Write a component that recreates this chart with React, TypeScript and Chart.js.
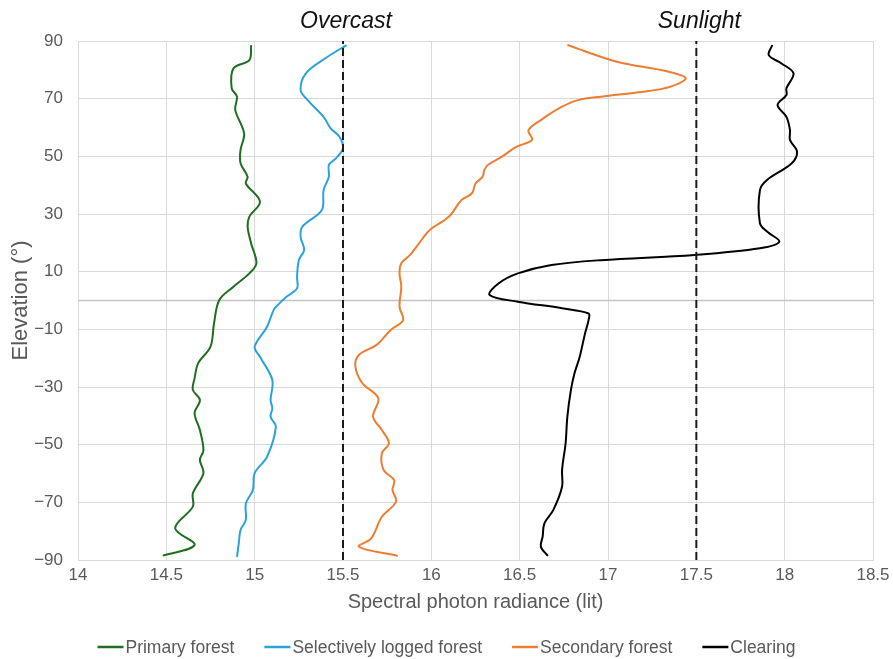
import React, { useEffect, useRef } from "react";
import { Chart, registerables } from "chart.js";

Chart.register(...registerables);

// ---- Data (elevation in degrees, spectral photon radiance in lit) ----
const primaryElev = [88.6, 83.4, 80.5, 73.6, 70.7, 66.1, 58, 52.2, 47.6, 42.9, 40.6, 34.3, 29.1, 25.6, 19.8, 12.9, 9.4, 4.8, 0.2, -7.9, -16, -21.8, -27, -31, -34.5, -39.1, -44.9, -51.9, -55.3, -59.9, -66.9, -71.5, -79, -84.8, -88.5];
const primaryVal = [14.98, 14.97, 14.88, 14.87, 14.9, 14.89, 14.94, 14.92, 14.92, 14.96, 14.95, 15.03, 14.97, 14.96, 14.98, 15.01, 14.97, 14.88, 14.8, 14.77, 14.75, 14.68, 14.66, 14.65, 14.69, 14.66, 14.69, 14.71, 14.69, 14.71, 14.65, 14.65, 14.55, 14.66, 14.48];

const loggedElev = [88.6, 84, 78.8, 73, 69.5, 63.7, 59.7, 56.8, 52.8, 49.3, 47, 42.9, 38.3, 31.4, 25.6, 22.1, 17.5, 14, 8.2, 4.2, 1.3, -1, -3, -9.1, -16, -19.5, -27.6, -34.5, -37.4, -40.3, -43.8, -54.2, -59.9, -65.7, -70.4, -76.1, -79.6, -84.2, -88.9];
const loggedVal = [15.52, 15.4, 15.29, 15.26, 15.3, 15.39, 15.43, 15.48, 15.5, 15.46, 15.42, 15.42, 15.39, 15.38, 15.27, 15.26, 15.28, 15.25, 15.24, 15.24, 15.18, 15.14, 15.11, 15.07, 15.0, 15.03, 15.1, 15.09, 15.1, 15.09, 15.12, 15.07, 15.0, 14.99, 14.95, 14.95, 14.92, 14.91, 14.9];

const secondaryElev = [88.6, 82.8, 79.4, 77.1, 74.1, 72.4, 70.7, 69.5, 67.2, 63, 59.1, 55.7, 53.3, 49.9, 47, 45.3, 42.9, 40.6, 37.2, 34.8, 29.1, 24.4, 19.8, 15.8, 12.9, 9.4, 4.8, -2.2, -6.8, -10.2, -15.4, -18.9, -22.9, -28.7, -33.9, -40.3, -44.9, -49.5, -53, -58.8, -62.3, -65.7, -69.8, -75, -82.5, -85.4, -88.6];
const secondaryVal = [16.77, 17.05, 17.34, 17.44, 17.35, 17.2, 16.96, 16.83, 16.74, 16.63, 16.55, 16.57, 16.48, 16.4, 16.32, 16.3, 16.29, 16.25, 16.23, 16.17, 16.1, 15.99, 15.93, 15.88, 15.83, 15.82, 15.83, 15.82, 15.84, 15.77, 15.69, 15.59, 15.57, 15.61, 15.7, 15.67, 15.72, 15.76, 15.72, 15.73, 15.79, 15.78, 15.8, 15.72, 15.66, 15.59, 15.81];

const clearingElev = [88.6, 85.1, 82.3, 78.8, 73.6, 71.3, 67.8, 63.7, 59.1, 55.7, 51.6, 47.6, 41.8, 38.3, 26.8, 23.9, 20.4, 18.1, 15.8, 14, 12.3, 9.4, 5.9, 1.9, -0.4, -2.7, -4.5, -6.8, -11.4, -19.5, -25.3, -31.1, -40.3, -49.5, -58.8, -64.6, -72.7, -77.3, -81.9, -85.4, -88.6];
const clearingVal = [17.93, 17.91, 17.98, 18.05, 18.01, 18.01, 17.96, 18.01, 18.03, 18.03, 18.07, 18.04, 17.9, 17.86, 17.86, 17.9, 17.97, 17.86, 17.49, 16.96, 16.68, 16.49, 16.38, 16.33, 16.49, 16.74, 16.89, 16.89, 16.87, 16.84, 16.81, 16.79, 16.77, 16.76, 16.74, 16.74, 16.69, 16.64, 16.63, 16.62, 16.66];

const seriesNames = ["Primary forest", "Selectively logged forest", "Secondary forest", "Clearing"];
const seriesColors = ["#1f6e22", "#2aa2dc", "#ed7d31", "#000000"];

const referenceValues = [15.5, 17.5]; // overcast, sunlight
const referenceLabels = ["Overcast", "Sunlight"];

const xMin = 14;
const xMax = 18.5;
const xStep = 0.5;
const yMin = -90;
const yMax = 90;
const yStep = 20;

const FONT = "'Liberation Sans', Arial, sans-serif";

function toPoints(vals: number[], elev: number[]) {
  return vals.map((v, i) => ({ x: v, y: elev[i] }));
}

const legendPlugin = {
  id: "customLegend",
  afterDraw(chart: any) {
    const ctx = chart.ctx;
    const fontSize = 17.5;
    ctx.save();
    ctx.font = `${fontSize}px ${FONT}`;
    const lineLen = 26;
    const textGap = 2;
    const itemGap = 30;
    const widths = seriesNames.map((n) => ctx.measureText(n).width);
    const total = widths.reduce((a, w) => a + lineLen + textGap + w, 0) + itemGap * (seriesNames.length - 1);
    let x = chart.width / 2 - total / 2;
    const y = 647;
    seriesNames.forEach((n, i) => {
      ctx.strokeStyle = seriesColors[i];
      ctx.lineWidth = 2.5;
      ctx.beginPath();
      ctx.moveTo(x, y);
      ctx.lineTo(x + lineLen, y);
      ctx.stroke();
      ctx.fillStyle = "#595959";
      ctx.textBaseline = "middle";
      ctx.textAlign = "left";
      ctx.fillText(n, x + lineLen + textGap, y + 1);
      x += lineLen + textGap + widths[i] + itemGap;
    });
    ctx.restore();
  },
};

const extrasPlugin = {
  id: "extras",
  beforeDatasetsDraw(chart: any) {
    const ctx = chart.ctx;
    const ys = chart.scales.y;
    const area = chart.chartArea;
    const y0 = ys.getPixelForValue(0);
    ctx.save();
    ctx.strokeStyle = "#c4c4c4";
    ctx.lineWidth = 1.5;
    ctx.beginPath();
    ctx.moveTo(area.left, y0);
    ctx.lineTo(area.right, y0);
    ctx.stroke();
    ctx.restore();
  },
  afterDraw(chart: any) {
    const ctx = chart.ctx;
    const xs = chart.scales.x;
    ctx.save();
    ctx.font = `italic 23px ${FONT}`;
    ctx.fillStyle = "#111111";
    ctx.textAlign = "center";
    ctx.textBaseline = "alphabetic";
    referenceValues.forEach((v, i) => {
      ctx.fillText(referenceLabels[i], xs.getPixelForValue(v) + 3, 28);
    });
    ctx.restore();
  },
};

export default function App() {
  const ref = useRef<HTMLCanvasElement | null>(null);
  useEffect(() => {
    if (!ref.current) return;
    const datasets: any[] = [];
    referenceValues.forEach((v) => {
      datasets.push({
        label: "ref" + v,
        data: [
          { x: v, y: yMin },
          { x: v, y: yMax },
        ],
        borderColor: "#1a1a1a",
        borderWidth: 2,
        borderDash: [8, 4],
        pointRadius: 0,
        showLine: true,
        tension: 0,
      });
    });
    const series = [
      toPoints(primaryVal, primaryElev),
      toPoints(loggedVal, loggedElev),
      toPoints(secondaryVal, secondaryElev),
      toPoints(clearingVal, clearingElev),
    ];
    series.forEach((pts, i) => {
      datasets.push({
        label: seriesNames[i],
        data: pts,
        borderColor: seriesColors[i],
        backgroundColor: seriesColors[i],
        borderWidth: 2,
        pointRadius: 0,
        showLine: true,
        tension: 0.35,
        fill: false,
      });
    });

    const chart = new Chart(ref.current, {
      type: "scatter",
      data: { datasets },
      options: {
        animation: false,
        responsive: true,
        maintainAspectRatio: false,
        layout: { padding: { left: 0, right: 20, top: 41, bottom: 39 } },
        plugins: {
          legend: { display: false },
          tooltip: { enabled: false },
        },
        scales: {
          x: {
            type: "linear",
            min: xMin,
            max: xMax,
            afterFit: (s: any) => {
              s.height = 60;
              s.paddingRight = 0;
              s.paddingLeft = 0;
            },
            ticks: {
              stepSize: xStep,
              padding: 5,
              color: "#595959",
              font: { family: FONT, size: 17 },
              maxRotation: 0,
              callback: (v: any) => String(Number(v)),
            },
            grid: { color: "#d9d9d9", lineWidth: 1, drawTicks: false },
            border: { display: true, color: "#d9d9d9" },
            title: {
              display: true,
              text: "Spectral photon radiance (lit)",
              color: "#595959",
              font: { family: FONT, size: 20 },
              padding: { top: 0, bottom: 6 },
            },
          },
          y: {
            type: "linear",
            min: yMin,
            max: yMax,
            afterFit: (s: any) => {
              s.width = 78;
            },
            ticks: {
              stepSize: yStep,
              padding: 15,
              color: "#595959",
              font: { family: FONT, size: 17 },
              callback: (v: any) => {
                const n = Number(v);
                return n < 0 ? "\u2212" + Math.abs(n) : String(n);
              },
            },
            grid: { color: "#d9d9d9", lineWidth: 1, drawTicks: false },
            border: { display: true, color: "#d9d9d9" },
            title: {
              display: true,
              text: "Elevation (°)",
              color: "#595959",
              font: { family: FONT, size: 22 },
              padding: { top: 8, bottom: 0 },
            },
          },
        },
      },
      plugins: [extrasPlugin, legendPlugin],
    });
    return () => chart.destroy();
  }, []);

  return (
    <div style={{ position: "absolute", left: 0, top: 0, width: 893, height: 659 }}>
      <canvas ref={ref} />
    </div>
  );
}
